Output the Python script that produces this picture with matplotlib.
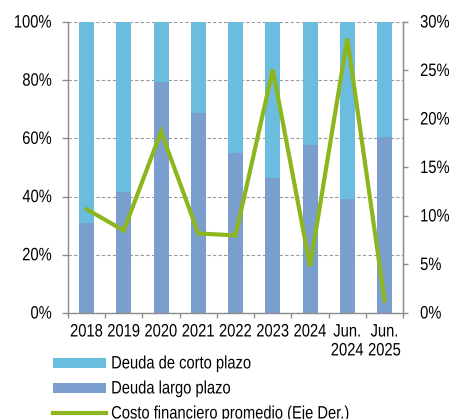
import matplotlib
matplotlib.use("Agg")
import matplotlib.pyplot as plt
from matplotlib.ticker import FuncFormatter, MultipleLocator
from matplotlib.patches import Patch
from matplotlib.lines import Line2D
from matplotlib.patheffects import AbstractPathEffect
from matplotlib.transforms import Affine2D
from matplotlib.text import Text

plt.rcParams['font.family'] = ['Liberation Sans', 'DejaVu Sans']
FS = 10.6


class VStretch(AbstractPathEffect):
    """Draw text glyphs taller (narrow-looking type, as in the reference)."""
    def __init__(self, sy):
        super().__init__()
        self.sy = sy

    def draw_path(self, renderer, gc, tpath, affine, rgbFace=None):
        renderer.draw_path(gc, tpath, Affine2D().scale(1.0, self.sy) + affine, rgbFace)


categories = ["2018", "2019", "2020", "2021", "2022", "2023", "2024", "Jun.\n2024", "Jun.\n2025"]
largo_plazo = [30.8, 41.7, 79.5, 68.6, 55.1, 46.3, 57.6, 39.1, 60.6]
corto_plazo = [100 - v for v in largo_plazo]
costo_financiero = [10.7, 8.5, 18.7, 8.2, 8.0, 25.1, 4.8, 28.3, 1.3]

c_corto = "#6BBDE0"
c_largo = "#7A9FCF"
c_line = "#8DB51E"
c_axis = "#8C8C8C"

fig = plt.figure(figsize=(4.53, 4.19), dpi=100)
ax = fig.add_axes([0.150, 0.253, 0.740, 0.6945])
x = list(range(len(categories)))

ax.bar(x, largo_plazo, width=0.4, color=c_largo, zorder=2)
ax.bar(x, corto_plazo, width=0.4, bottom=largo_plazo, color=c_corto, zorder=2)
ax.set_xlim(-0.5, len(categories) - 0.5)
ax.set_ylim(0, 100)
ax.set_axisbelow(True)
ax.yaxis.set_major_locator(MultipleLocator(20))
ax.yaxis.set_major_formatter(FuncFormatter(lambda v, p: f"{v:.0f}%"))
ax.grid(axis='y', color='#999999', linestyle=(0, (3, 2)), linewidth=0.8)

ax.set_xticks(x)
ax.set_xticklabels(categories, fontsize=FS, linespacing=1.45)
ax.set_xticks([i + 0.5 for i in range(-1, len(categories))], minor=True)
ax.tick_params(axis='x', which='major', length=0, pad=9)
ax.tick_params(axis='x', which='minor', length=3.6, color=c_axis, width=1)
ax.tick_params(axis='y', length=4.3, color=c_axis, width=1, labelsize=FS, pad=7.2)

ax.spines['top'].set_visible(False)
for s in ['left', 'bottom', 'right']:
    ax.spines[s].set_color(c_axis)
    ax.spines[s].set_linewidth(1)

ax2 = ax.twinx()
ax2.plot(x, costo_financiero, color=c_line, linewidth=3.0, zorder=3, solid_joinstyle='miter')
ax2.set_ylim(0, 30)
ax2.yaxis.set_major_locator(MultipleLocator(5))
ax2.yaxis.set_major_formatter(FuncFormatter(lambda v, p: f"{v:.0f}%"))
ax2.tick_params(axis='y', length=3.6, color=c_axis, width=1, labelsize=FS, pad=8.6)
ax2.spines['top'].set_visible(False)
ax2.spines['left'].set_visible(False)
ax2.spines['bottom'].set_visible(False)
ax2.spines['right'].set_color(c_axis)

handles = [Patch(facecolor=c_corto), Patch(facecolor=c_largo),
           Line2D([0], [0], color=c_line, linewidth=3.0)]
labels = ["Deuda de corto plazo", "Deuda largo plazo", "Costo financiero promedio (Eje Der.)"]
fig.legend(handles, labels, loc='upper left', bbox_to_anchor=(0.117, 0.147),
           frameon=False, fontsize=FS, handlelength=53 / (FS * 100 / 72), handleheight=0.65,
           handletextpad=0.35, labelspacing=0.75, borderaxespad=0, borderpad=0)

fig.canvas.draw()
for t in fig.findobj(Text):
    t.set_path_effects([VStretch(1.22)])

fig.savefig("out.png", dpi=100)
